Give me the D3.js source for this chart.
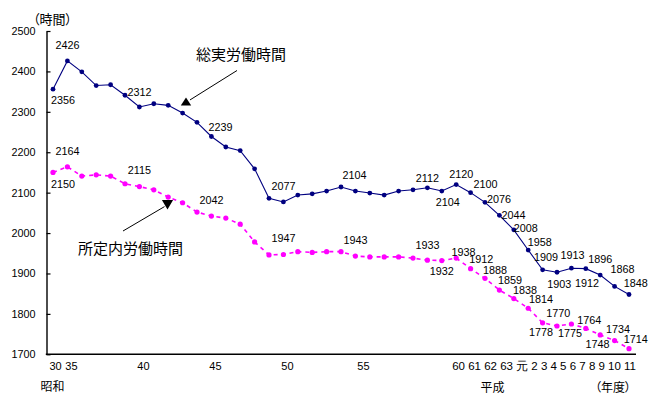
<!DOCTYPE html>
<html><head><meta charset="utf-8">
<script src="https://cdn.jsdelivr.net/npm/d3@7"></script>
<style>
body{margin:0;background:#fff}
svg{display:block}
text{font-family:"Liberation Sans",Arial,sans-serif;fill:#000}
.jp{font-family:"Noto Sans CJK JP","Noto Sans",sans-serif;font-feature-settings:"palt"}
</style></head><body>
<svg id="c" width="656" height="394"></svg>
<script>
// ---- data ----
const categories = ["30","35","36","37","38","39","40","41","42","43","44","45","46","47","48","49",
  "50","51","52","53","54","55","56","57","58","59","60","61","62","63",
  "元","2","3","4","5","6","7","8","9","10","11"];
const totalHours = [2356,2426,2399,2365,2367,2341,2312,2320,2316,2297,2274,2239,2213,2204,2159,2086,
  2077,2094,2097,2104,2114,2104,2099,2094,2104,2107,2112,2104,2120,2100,
  2076,2044,2008,1958,1909,1903,1913,1912,1896,1868,1848];
const scheduledHours = [2150,2164,2141,2144,2141,2122,2115,2107,2089,2075,2052,2042,2037,2022,1978,1946,
  1947,1954,1952,1954,1954,1943,1941,1941,1941,1938,1933,1932,1938,1912,
  1888,1859,1838,1814,1778,1770,1775,1764,1748,1734,1714];
const yTicks = [1700,1800,1900,2000,2100,2200,2300,2400,2500];
const showaTicks = ["30","35","40","45","50","55"];
const heiseiTickRow = "60 61 62 63 元 2 3 4 5 6 7 8 9 10 11";
const seriesNames = ["総実労働時間","所定内労働時間"];
const yUnit = "（時間）", xUnit = "（年度）", eraShowa = "昭和", eraHeisei = "平成";

// ---- layout of value labels (index -> [dx, dy] offset of label centre from its point) ----
const totalLabelOff = {0:[10,11],1:[0,-16],6:[0,-15],11:[9,-9],16:[0,-16],21:[-1,-16],26:[0,-10],27:[6,11],
  28:[5,-10],29:[15,-8],30:[14,-3.5],31:[14,0],32:[12,-2],33:[11.5,-7.5],34:[3.4,-13],35:[2.3,11.5],
  36:[1,-13],37:[1.3,14.5],38:[0,-16],39:[8,-17.7],40:[6.7,-11.5]};
const schedLabelOff = {0:[10,12],1:[0,-16],6:[0,-16],11:[0,-16],16:[0,-16.5],21:[0,-15.7],26:[0,-15.3],
  27:[0,10.7],28:[7.3,-6.3],29:[10.7,-9],30:[10,-8.5],31:[10.7,-10],32:[11.3,-8.5],33:[12.7,-9],
  34:[-1.7,9.8],35:[1.3,-12.7],36:[-1.3,9.7],37:[3.4,-8.7],38:[-2.8,9.3],39:[3.5,-11.2],40:[6.7,-9.3]};
const tickNudge = {"30":-1.5,"55":4};

// ---- chart ----
const svg = d3.select("#c");
const x = d3.scalePoint().domain(categories).range([53,629]);
const y = d3.scaleLinear().domain([1700,2500]).range([354.3,31]);
const axisX = 46.5;
const labelSize = 10.8;

// y axis
const ya = svg.append("g").attr("transform",`translate(${axisX},0)`)
  .call(d3.axisLeft(y).tickValues(yTicks).tickSize(-4).tickSizeOuter(0).tickPadding(11).tickFormat(d3.format("d")));
ya.select(".domain").attr("stroke","#000").attr("stroke-width",1.4);
ya.selectAll(".tick line").attr("stroke","#000").attr("stroke-width",1.2);
ya.selectAll(".tick text").attr("font-size",labelSize).attr("font-family","Liberation Sans, Arial, sans-serif").attr("fill","#000");

// x axis line
svg.append("line").attr("x1",axisX-0.7).attr("x2",636).attr("y1",y(1700)).attr("y2",y(1700))
  .attr("stroke","#000").attr("stroke-width",1.6);

// x tick labels
svg.append("g").selectAll("text").data(showaTicks).join("text")
  .attr("x",d=>x(d)+4+(tickNudge[d]||0)).attr("y",370).attr("text-anchor","middle")
  .attr("font-size",11).text(d=>d);
svg.append("text").attr("x",x("11")+7).attr("y",370).attr("text-anchor","end")
  .attr("font-size",11.5).text(heiseiTickRow);

// era / unit labels
svg.append("text").attr("class","jp").attr("x",40.5).attr("y",390.5).attr("font-size",12).text(eraShowa);
svg.append("text").attr("class","jp").attr("x",480.5).attr("y",392).attr("font-size",12).text(eraHeisei);
svg.append("text").attr("class","jp").attr("x",631).attr("y",392).attr("text-anchor","end").attr("font-size",12).text(xUnit);
svg.append("text").attr("class","jp").attr("x",33).attr("y",24).attr("font-size",13).text(yUnit);

// lines
const line = d3.line().x((d,i)=>x(categories[i])).y(d=>y(d));
svg.append("path").datum(scheduledHours).attr("d",line).attr("fill","none")
  .attr("stroke","#ff00ff").attr("stroke-width",1.6).attr("stroke-dasharray","4,4");
svg.append("path").datum(totalHours).attr("d",line).attr("fill","none")
  .attr("stroke","#000080").attr("stroke-width",1.1);

svg.append("g").selectAll("circle").data(scheduledHours).join("circle")
  .attr("cx",(d,i)=>x(categories[i])).attr("cy",d=>y(d)).attr("r",2.6).attr("fill","#ff00ff");
svg.append("g").selectAll("circle").data(totalHours).join("circle")
  .attr("cx",(d,i)=>x(categories[i])).attr("cy",d=>y(d)).attr("r",2.4).attr("fill","#000080");

// value labels
function valueLabels(values, offs){
  const idx = Object.keys(offs).map(Number);
  svg.append("g").selectAll("text").data(idx).join("text")
    .attr("x",i=>x(categories[i])+offs[i][0])
    .attr("y",i=>y(values[i])+offs[i][1]+3.8)
    .attr("text-anchor","middle").attr("font-size",labelSize)
    .text(i=>values[i]);
}
valueLabels(totalHours,totalLabelOff);
valueLabels(scheduledHours,schedLabelOff);

// series annotations with arrows
const tx1 = x(categories[9])+3.4, ty1 = y(totalHours[9])-15.6;
svg.append("line").attr("x1",237).attr("y1",70.5).attr("x2",tx1+4).attr("y2",ty1+2.5).attr("stroke","#000").attr("stroke-width",1);
svg.append("path").attr("d",`M${tx1},${ty1} L${tx1-5.2},${ty1+8} L${tx1+5.2},${ty1+8} Z`).attr("fill","#000");
svg.append("text").attr("class","jp").attr("x",196).attr("y",59.7).attr("font-size",15).text(seriesNames[0]);

const tx2 = x(categories[8])-0.7, ty2 = y(scheduledHours[8])+12.5;
svg.append("line").attr("x1",123).attr("y1",231).attr("x2",tx2-3).attr("y2",ty2-3).attr("stroke","#000").attr("stroke-width",1);
svg.append("path").attr("d",`M${tx2},${ty2} L${tx2-5.6},${ty2-9.5} L${tx2+5.6},${ty2-9.5} Z`).attr("fill","#000");
svg.append("text").attr("class","jp").attr("x",78).attr("y",253.7).attr("font-size",15).text(seriesNames[1]);
</script>
</body></html>
